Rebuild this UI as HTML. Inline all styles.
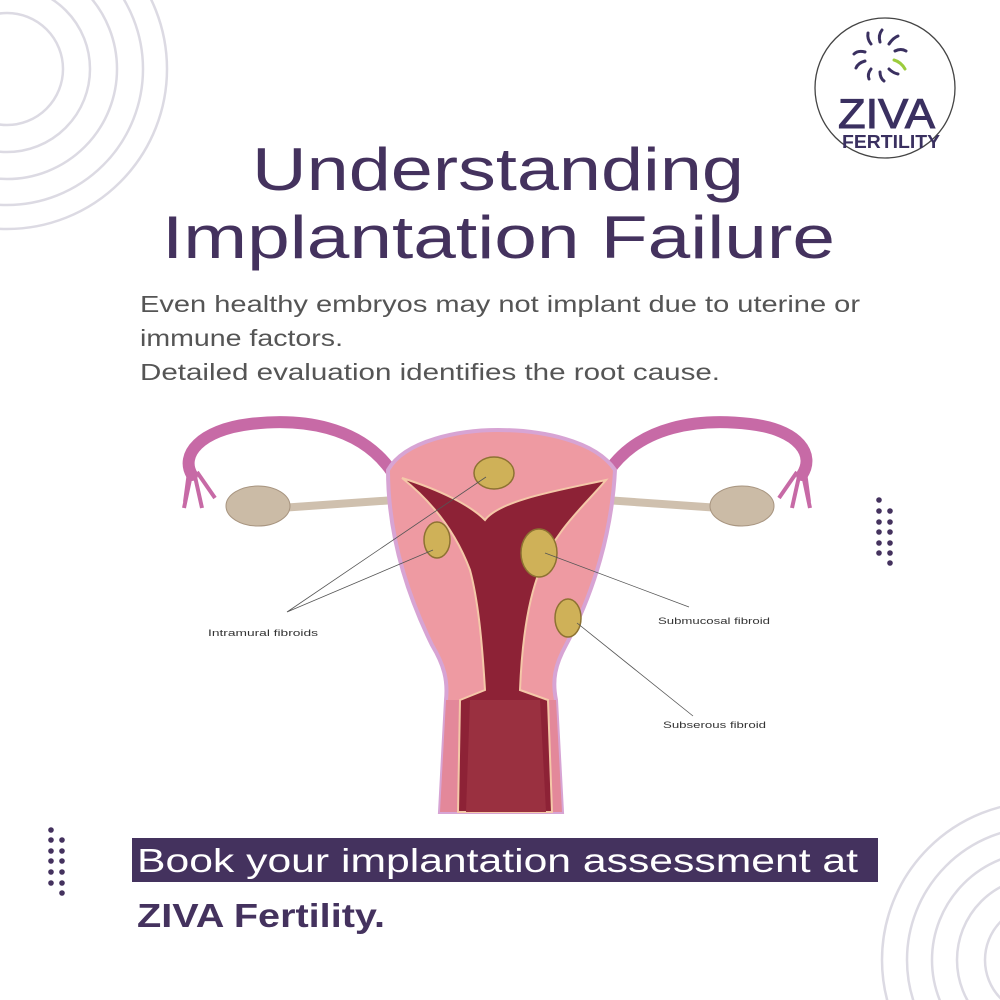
<!DOCTYPE html>
<html><head><meta charset="utf-8"><style>
html,body{margin:0;padding:0;background:#fff;width:1000px;height:1000px;overflow:hidden;}
svg{display:block;overflow:hidden;position:absolute;left:0;top:0;}
</style></head><body>
<svg width="1000" height="1000" viewBox="0 0 1000 1000" xmlns="http://www.w3.org/2000/svg">
<rect width="1000" height="1000" fill="#fff"/>
<g fill="none" stroke="#dcdae3" stroke-width="2.5">
<circle cx="7" cy="69" r="56"/><circle cx="7" cy="69" r="83"/><circle cx="7" cy="69" r="110"/><circle cx="7" cy="69" r="136"/><circle cx="7" cy="69" r="160"/>
<circle cx="1040" cy="960" r="55"/><circle cx="1040" cy="960" r="83"/><circle cx="1040" cy="960" r="108"/><circle cx="1040" cy="960" r="133"/><circle cx="1040" cy="960" r="158"/>
</g>
<g fill="#44325e">
<circle cx="879" cy="500" r="2.8"/><circle cx="879" cy="511" r="2.8"/><circle cx="879" cy="522" r="2.8"/><circle cx="879" cy="532" r="2.8"/><circle cx="879" cy="543" r="2.8"/><circle cx="879" cy="553" r="2.8"/>
<circle cx="890" cy="511" r="2.8"/><circle cx="890" cy="522" r="2.8"/><circle cx="890" cy="532" r="2.8"/><circle cx="890" cy="543" r="2.8"/><circle cx="890" cy="553" r="2.8"/><circle cx="890" cy="563" r="2.8"/>
<circle cx="51" cy="830" r="2.8"/><circle cx="51" cy="840" r="2.8"/><circle cx="51" cy="851" r="2.8"/><circle cx="51" cy="861" r="2.8"/><circle cx="51" cy="872" r="2.8"/><circle cx="51" cy="883" r="2.8"/>
<circle cx="62" cy="840" r="2.8"/><circle cx="62" cy="851" r="2.8"/><circle cx="62" cy="861" r="2.8"/><circle cx="62" cy="872" r="2.8"/><circle cx="62" cy="883" r="2.8"/><circle cx="62" cy="893" r="2.8"/>
</g>
<circle cx="885" cy="88" r="70" fill="#fff" stroke="#444" stroke-width="1.3"/>
<g stroke="#3a3060" stroke-width="3" stroke-linecap="round" fill="none">
<path d="M880 42 q-2 -7 2 -12"/><path d="M889 44 q4 -6 9 -8"/><path d="M895 51 q6 -3 11 0"/>
<path d="M871 44 q-4 -5 -3 -11"/><path d="M865 52 q-7 -2 -11 2"/><path d="M865 61 q-7 2 -9 7"/>
<path d="M871 69 q-4 5 -2 10"/><path d="M880 72 q0 6 4 9"/><path d="M889 69 q4 4 9 5"/>
</g>
<path d="M894 60 q7 2 11 9" stroke="#9ccc3c" stroke-width="3" fill="none" stroke-linecap="round"/>
<text x="838" y="128" font-family="Liberation Sans,sans-serif" font-size="42" fill="#3a3060" stroke="#3a3060" stroke-width="1" textLength="97" lengthAdjust="spacingAndGlyphs">ZIVA</text>
<text x="842" y="148" font-family="Liberation Sans,sans-serif" font-weight="bold" font-size="18" fill="#3a3060" textLength="98" lengthAdjust="spacingAndGlyphs">FERTILITY</text>
<g font-family="Liberation Sans,sans-serif" fill="#44325e">
<text x="252" y="190" font-size="60" textLength="492" lengthAdjust="spacingAndGlyphs">Understanding</text>
<text x="162" y="258" font-size="60" textLength="673" lengthAdjust="spacingAndGlyphs">Implantation Failure</text>
</g>
<g font-family="Liberation Sans,sans-serif" fill="#555" font-size="23">
<text x="140" y="312" textLength="720" lengthAdjust="spacingAndGlyphs">Even healthy embryos may not implant due to uterine or</text>
<text x="140" y="346" textLength="203" lengthAdjust="spacingAndGlyphs">immune factors.</text>
<text x="140" y="380" textLength="580" lengthAdjust="spacingAndGlyphs">Detailed evaluation identifies the root cause.</text>
</g>
<g>
<path d="M392 472 C360 425 300 418 250 424 C200 430 180 455 192 475" fill="none" stroke="#c76aa6" stroke-width="12" stroke-linecap="round"/>
<path d="M608 472 C640 425 700 418 750 424 C800 430 815 455 802 475" fill="none" stroke="#c76aa6" stroke-width="12" stroke-linecap="round"/>
<path d="M192 470 l-8 38 M194 472 l8 36 M197 472 l18 26 M189 472 l-4 30" stroke="#c76aa6" stroke-width="4" fill="none"/>
<path d="M802 470 l8 38 M800 472 l-8 36 M797 472 l-18 26 M805 472 l4 30" stroke="#c76aa6" stroke-width="4" fill="none"/>
<path d="M280 508 L395 500" stroke="#cfc0ae" stroke-width="8"/>
<path d="M605 500 L720 508" stroke="#cfc0ae" stroke-width="8"/>
<ellipse cx="258" cy="506" rx="32" ry="20" fill="#cbbba6" stroke="#a89580"/>
<ellipse cx="742" cy="506" rx="32" ry="20" fill="#cbbba6" stroke="#a89580"/>
<path d="M388 470 C405 440 460 430 498 430 C540 430 595 440 615 470 C612 530 595 590 566 645 C555 665 552 680 556 700 L562 812 L440 812 L446 700 C448 680 444 665 432 645 C405 590 388 530 388 470 Z" fill="#ee9aa2" stroke="#d7a4d4" stroke-width="4"/>
<path d="M446 700 L440 812 L562 812 L556 700 Z" fill="#e3889a"/>
<path d="M402 478 C440 490 470 505 485 520 C500 500 560 490 606 480 C585 505 555 530 540 570 C528 600 522 640 520 690 L548 700 L552 812 L458 812 L460 700 L485 690 C482 640 478 600 470 570 C455 530 430 500 402 478 Z" fill="#8d2236" stroke="#f4c8a8" stroke-width="2"/>
<path d="M470 700 L466 812 L546 812 L540 700 Z" fill="#9a3040"/>
<g fill="#cfb158" stroke="#8d7232" stroke-width="1.5">
<ellipse cx="494" cy="473" rx="20" ry="16"/>
<ellipse cx="437" cy="540" rx="13" ry="18"/>
<ellipse cx="539" cy="553" rx="18" ry="24"/>
<ellipse cx="568" cy="618" rx="13" ry="19"/>
</g>
<g stroke="#555" stroke-width="0.8" fill="none">
<path d="M287 612 L486 477 M287 612 L433 550"/>
<path d="M545 553 L689 607"/>
<path d="M577 623 L693 716"/>
</g>
<g font-family="Liberation Sans,sans-serif" font-size="9" fill="#333">
<text x="208" y="636" textLength="110" lengthAdjust="spacingAndGlyphs">Intramural fibroids</text>
<text x="658" y="624" textLength="112" lengthAdjust="spacingAndGlyphs">Submucosal fibroid</text>
<text x="663" y="728" textLength="103" lengthAdjust="spacingAndGlyphs">Subserous fibroid</text>
</g>
</g>
<rect x="132" y="838" width="746" height="44" fill="#44325e"/>
<text x="137" y="872" font-family="Liberation Sans,sans-serif" font-size="33" fill="#fff" textLength="721" lengthAdjust="spacingAndGlyphs">Book your implantation assessment at</text>
<text x="137" y="927" font-family="Liberation Sans,sans-serif" font-weight="bold" font-size="33" fill="#44325e" textLength="248" lengthAdjust="spacingAndGlyphs">ZIVA Fertility.</text>
</svg>
</body></html>
